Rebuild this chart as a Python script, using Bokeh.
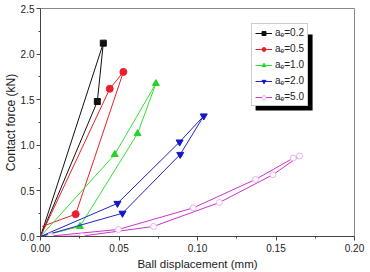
from bokeh.plotting import figure
from bokeh.models import Legend, LegendItem, FixedTicker, NumeralTickFormatter, BoxAnnotation
from bokeh.embed import file_html
from bokeh.resources import INLINE

# Data: loading/unloading loops for each a_e
labels = ["aₑ=0.2", "aₑ=0.5", "aₑ=1.0", "aₑ=2.0", "aₑ=5.0"]

x_02 = [0.0, 0.0400, 0.0362, 0.0]
y_02 = [0.0, 2.12, 1.48, 0.0]
mx_02 = [0.0400, 0.0362]
my_02 = [2.12, 1.48]

x_05 = [0.0, 0.0441, 0.0528, 0.0224, 0.001]
y_05 = [0.0, 1.62, 1.805, 0.245, 0.11]
mx_05 = [0.0441, 0.0528, 0.0224]
my_05 = [1.62, 1.805, 0.245]

x_10 = [0.0, 0.0473, 0.0735, 0.0618, 0.0251, 0.0]
y_10 = [0.0, 0.90, 1.677, 1.128, 0.11, 0.0]
mx_10 = [0.0473, 0.0735, 0.0618, 0.0251]
my_10 = [0.90, 1.677, 1.128, 0.11]

x_20 = [0.0, 0.0490, 0.0886, 0.1040, 0.0890, 0.0522, 0.0]
y_20 = [0.0, 0.363, 1.036, 1.322, 0.90, 0.255, 0.0]
mx_20 = [0.0490, 0.0886, 0.1040, 0.0890, 0.0522]
my_20 = [0.363, 1.036, 1.322, 0.90, 0.255]

x_50 = [0.0, 0.0064, 0.0496, 0.0973, 0.137, 0.161, 0.165, 0.148, 0.114, 0.072, 0.0266, 0.0]
y_50 = [0.0, 0.005, 0.077, 0.314, 0.626, 0.86, 0.882, 0.677, 0.373, 0.11, 0.005, 0.0]
mx_50 = [0.0064, 0.0496, 0.0973, 0.137, 0.161, 0.165, 0.148, 0.114, 0.072, 0.0266]
my_50 = [0.005, 0.077, 0.314, 0.626, 0.86, 0.882, 0.677, 0.373, 0.11, 0.005]

x_ticks = [0.0, 0.05, 0.10, 0.15, 0.20]
x_minor = [0.025, 0.075, 0.125, 0.175]
y_ticks = [0.0, 0.5, 1.0, 1.5, 2.0, 2.5]
y_minor = [0.25, 0.75, 1.25, 1.75, 2.25]

p = figure(width=370, height=272, x_range=(0, 0.2), y_range=(0, 2.5),
           output_backend="svg", toolbar_location=None,
           min_border_left=40, min_border_right=16, min_border_top=8, min_border_bottom=36)
p.xgrid.visible = False
p.ygrid.visible = False
p.outline_line_color = "#888888"
p.outline_line_width = 1
p.background_fill_color = "white"
p.border_fill_color = "white"

for ax in (p.xaxis[0], p.yaxis[0]):
    ax.axis_line_color = "#444444"
    ax.major_tick_line_color = "#444444"
    ax.minor_tick_line_color = "#444444"
    ax.major_tick_in = 0
    ax.major_tick_out = 4
    ax.minor_tick_in = 0
    ax.minor_tick_out = 2
    ax.major_label_text_font = "Liberation Sans"
    ax.major_label_text_font_size = "10px"
    ax.major_label_text_color = "#222222"
    ax.axis_label_text_font = "Liberation Sans"
    ax.axis_label_text_font_style = "normal"
    ax.axis_label_text_color = "#222222"

p.xaxis.major_label_standoff = 3
p.yaxis.major_label_standoff = 2
p.xaxis.axis_label_text_font_size = "11.5px"
p.yaxis.axis_label_text_font_size = "12px"
p.xaxis.ticker = FixedTicker(ticks=x_ticks, minor_ticks=x_minor)
p.yaxis.ticker = FixedTicker(ticks=y_ticks, minor_ticks=y_minor)
p.xaxis.formatter = NumeralTickFormatter(format="0.00")
p.yaxis.formatter = NumeralTickFormatter(format="0.0")
p.xaxis.axis_label = "Ball displacement (mm)"
p.yaxis.axis_label = "Contact force (kN)"
p.xaxis.axis_label_standoff = 3
p.yaxis.axis_label_standoff = 0

series = [
    (x_02, y_02, mx_02, my_02, "#111111", "square", "#111111", "#111111", 6),
    (x_05, y_05, mx_05, my_05, "#e8202a", "circle", "#e8202a", "#e8202a", 7),
    (x_10, y_10, mx_10, my_10, "#35e035", "triangle", "#2ad02a", "#2ad02a", 7),
    (x_20, y_20, mx_20, my_20, "#2323c8", "inverted_triangle", "#1515cc", "#1515cc", 7),
    (x_50, y_50, mx_50, my_50, "#cc33cc", "circle", "#eab0ea", "white", 6),
]

items = []
for (xs, ys, mxs, mys, col, mk, mlc, mfc, ms), lab in zip(series, labels):
    r1 = p.line(xs, ys, line_color=col, line_width=1)
    r2 = p.scatter(mxs, mys, marker=mk, size=ms, line_color=mlc, fill_color=mfc, line_width=1)
    items.append(LegendItem(label=lab, renderers=[r1, r2]))

# drop shadow behind the legend box (decoration only)
shadow = BoxAnnotation(left=0.137, right=0.1733, top=2.215, bottom=1.382,
                       fill_color="black", fill_alpha=1.0, line_color=None)
p.add_layout(shadow)

legend = Legend(items=items, location=(211, 130),
                label_text_font="Liberation Sans", label_text_font_size="10px",
                label_text_color="#222222",
                glyph_width=17, glyph_height=10, label_standoff=3,
                spacing=5, padding=3, margin=0, label_height=10,
                border_line_color="#999999", border_line_width=1,
                background_fill_color="white", background_fill_alpha=1.0)
p.add_layout(legend, "center")

open("out.html", "w").write(file_html(p, INLINE))
